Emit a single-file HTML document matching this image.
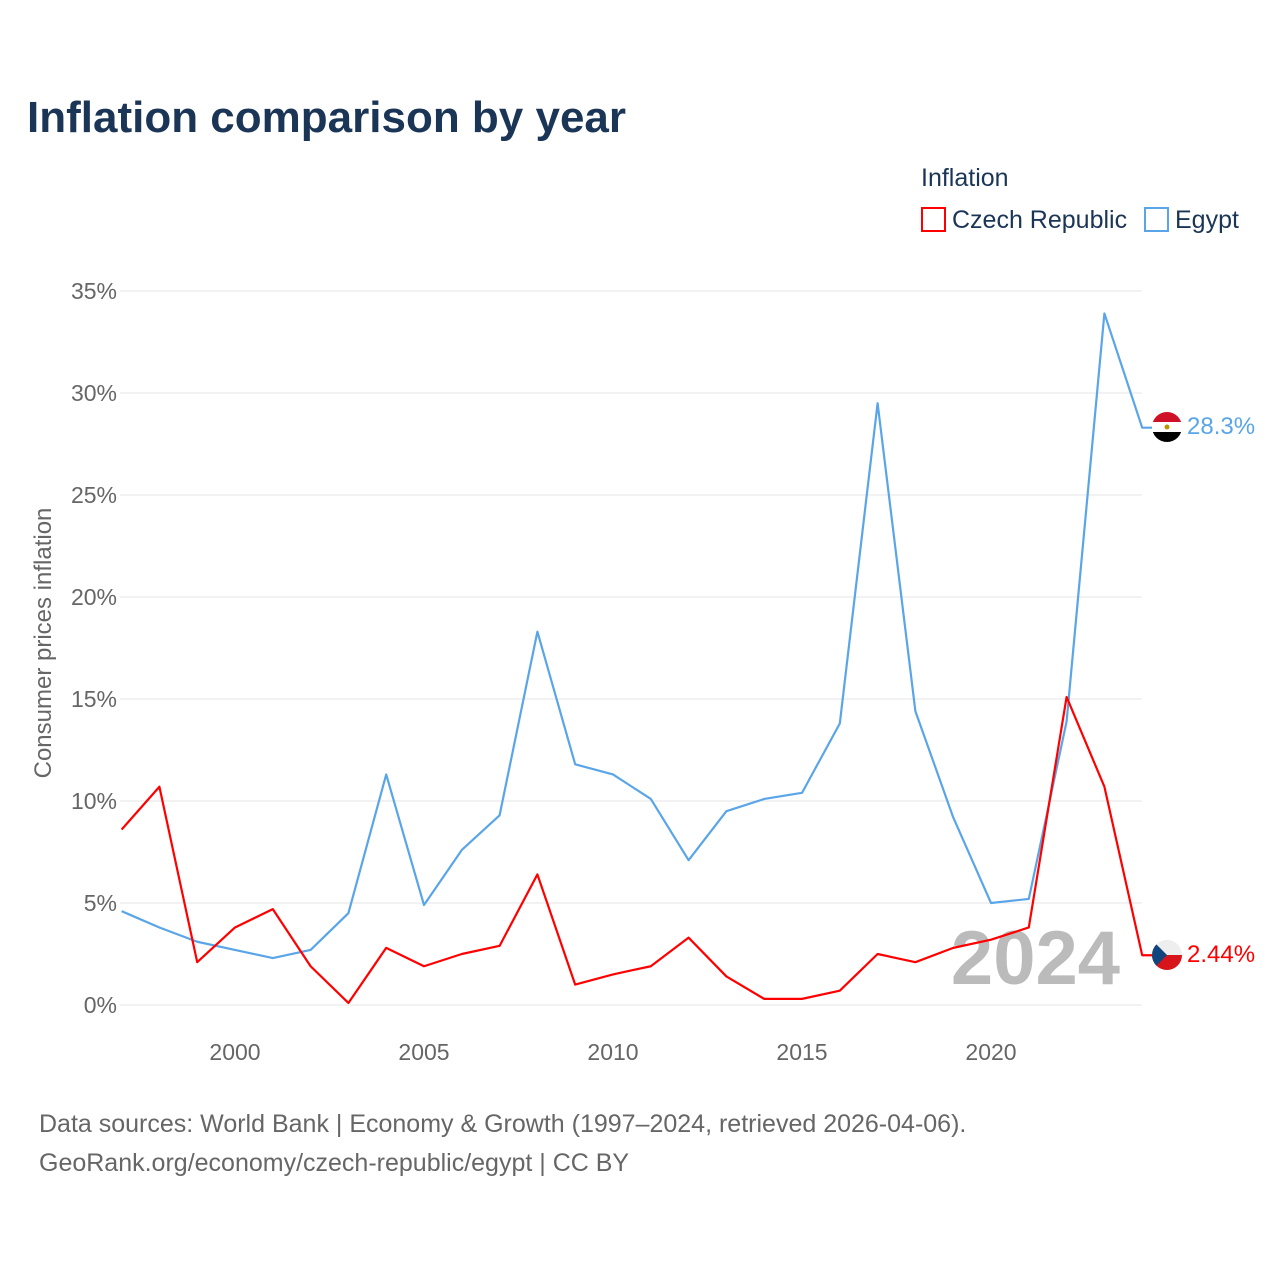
<!DOCTYPE html>
<html><head><meta charset="utf-8"><style>
body{margin:0;background:#fff;font-family:"Liberation Sans",sans-serif}
</style></head><body>
<svg width="1280" height="1280" viewBox="0 0 1280 1280" xmlns="http://www.w3.org/2000/svg" style="font-family:'Liberation Sans',sans-serif">
<text x="27" y="132" font-size="44" font-weight="bold" fill="#1b3556">Inflation comparison by year</text>
<text x="921" y="186" font-size="25" fill="#1b3556">Inflation</text>
<g><rect x="922" y="208" width="23" height="23" fill="none" stroke="#f00" stroke-width="2"/><text x="952" y="228" font-size="25" fill="#1b3556">Czech Republic</text></g>
<g><rect x="1145" y="208" width="23" height="23" fill="none" stroke="#5aa5e8" stroke-width="2"/><text x="1175" y="228" font-size="25" fill="#1b3556">Egypt</text></g>
<g id="grid"></g>
<g id="yt"></g>
<g id="xt"></g>
<text transform="translate(51,643) rotate(-90)" text-anchor="middle" font-size="24" fill="#666">Consumer prices inflation</text>
<text x="1120" y="984" text-anchor="end" font-size="76" font-weight="bold" fill="#bbb">2024</text>
<g id="series"></g>
<g><clipPath id="ce"><circle cx="1167" cy="427" r="15"/></clipPath><g clip-path="url(#ce)"><rect x="1152" y="412" width="30" height="10" fill="#ce1126"/><rect x="1152" y="422" width="30" height="10" fill="#fff"/><rect x="1152" y="432" width="30" height="10" fill="#000"/><circle cx="1167" cy="427" r="2.5" fill="#c09300"/></g></g>
<g><clipPath id="cc"><circle cx="1167" cy="955" r="15"/></clipPath><g clip-path="url(#cc)"><rect x="1152" y="940" width="30" height="15" fill="#eee"/><rect x="1152" y="955" width="30" height="15" fill="#d7141a"/><polygon points="1152,940 1167,955 1152,970" fill="#11457e"/></g></g>
<text x="1187" y="434" font-size="24" fill="#5aa5e8">28.3%</text>
<text x="1187" y="962" font-size="24" fill="#f00">2.44%</text>
<text x="39" y="1132" font-size="25" fill="#666">Data sources: World Bank | Economy &amp; Growth (1997–2024, retrieved 2026-04-06).</text>
<text x="39" y="1171" font-size="25" fill="#666">GeoRank.org/economy/czech-republic/egypt | CC BY</text>
</svg>
<script>
const years=[1997,1998,1999,2000,2001,2002,2003,2004,2005,2006,2007,2008,2009,2010,2011,2012,2013,2014,2015,2016,2017,2018,2019,2020,2021,2022,2023,2024];
const czech=[8.6,10.7,2.1,3.8,4.7,1.9,0.1,2.8,1.9,2.5,2.9,6.4,1.0,1.5,1.9,3.3,1.4,0.3,0.3,0.7,2.5,2.1,2.8,3.2,3.8,15.1,10.7,2.44];
const egypt=[4.6,3.8,3.1,2.7,2.3,2.7,4.5,11.3,4.9,7.6,9.3,18.3,11.8,11.3,10.1,7.1,9.5,10.1,10.4,13.8,29.5,14.4,9.2,5.0,5.2,13.9,33.9,28.3];
const yTicks=[0,5,10,15,20,25,30,35];
const xTicks=[2000,2005,2010,2015,2020];
const NS='http://www.w3.org/2000/svg';
const x=v=>235+(v-2000)*37.8;
const y=v=>1005-v*20.4;
function mk(t,a,p){const e=document.createElementNS(NS,t);for(const k in a)e.setAttribute(k,a[k]);p.appendChild(e);return e;}
const grid=document.getElementById('grid'),yt=document.getElementById('yt'),xt=document.getElementById('xt'),ser=document.getElementById('series');
yTicks.forEach(t=>{
 const l=mk('line',{x1:120,x2:1142,y1:y(t),y2:y(t),stroke:'#e6e6e6','stroke-width':1},grid);
 
 
 const tx=mk('text',{x:117,y:y(t)+8,'text-anchor':'end','font-size':23,fill:'#666'},yt);
 tx.textContent=t+'%';
 
 
});
xTicks.forEach(t=>{
 const tx=mk('text',{x:x(t),y:1060,'text-anchor':'middle','font-size':23,fill:'#666'},xt);
 tx.textContent=t;
 
 
});
function line(d,c,name){
 let pts=d.map((v,i)=>x(years[i])+','+y(v));
 pts.push((x(years[years.length-1])+10)+','+y(d[d.length-1]));
 const p=mk('polyline',{points:pts.join(' '),fill:'none',stroke:c,'stroke-width':2.2,'stroke-linejoin':'round'},ser);
 
 
}
line(egypt,'#5aa5e8','egypt-line');
line(czech,'#f00','czech-line');
</script>
</body></html>
